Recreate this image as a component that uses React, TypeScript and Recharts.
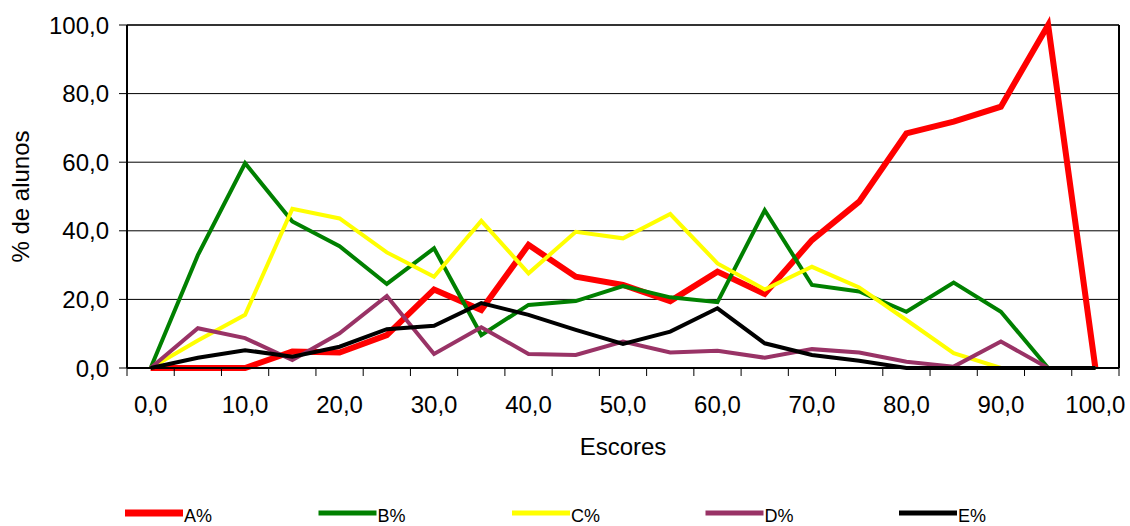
import React from 'react'
import { LineChart, Line, XAxis, YAxis, CartesianGrid, Legend, ReferenceLine } from 'recharts'

// Escores (x categories) and % de alunos per group
const scores = [0, 5, 10, 15, 20, 25, 30, 35, 40, 45, 50, 55, 60, 65, 70, 75, 80, 85, 90, 95, 100]
const seriesA = [0, 0, 0, 4.8, 4.5, 9.6, 22.9, 16.9, 35.9, 26.6, 24.2, 19.5, 28.1, 21.6, 37.3, 48.5, 68.4, 71.8, 76.2, 100, 0]
const seriesB = [0, 32.9, 59.7, 42.7, 35.5, 24.5, 34.9, 9.6, 18.4, 19.5, 23.9, 20.6, 19.2, 46, 24.2, 22.3, 16.4, 24.9, 16.4, 0, 0]
const seriesC = [0, 8, 15.5, 46.4, 43.6, 33.7, 26.6, 42.9, 27.6, 39.7, 37.8, 44.9, 30.5, 22.9, 29.5, 23.5, 14, 4.3, 0, 0, 0]
const seriesD = [0, 11.6, 8.7, 2.3, 10.1, 21, 4.1, 11.9, 4.1, 3.8, 7.7, 4.5, 5.0, 3.0, 5.5, 4.5, 1.8, 0.4, 7.7, 0, 0]
const seriesE = [0, 3.0, 5.2, 3.3, 6.2, 11.3, 12.3, 18.9, 15.5, 11.1, 7.0, 10.6, 17.4, 7.2, 3.8, 2.1, 0, 0, 0, 0, 0]

const labelTicks = [0, 10, 20, 30, 40, 50, 60, 70, 80, 90, 100]
// tick marks sit between categories, as in the original sheet
const edgeTicks = [-2.5, 2.5, 7.5, 12.5, 17.5, 22.5, 27.5, 32.5, 37.5, 42.5, 47.5, 52.5, 57.5, 62.5, 67.5, 72.5, 77.5, 82.5, 87.5, 92.5, 97.5, 102.5]
const yTicks = [0, 20, 40, 60, 80, 100]

const SERIES = [
  { key: 'A', name: 'A%', color: '#FF0000', width: 6, legendWidth: 7 },
  { key: 'B', name: 'B%', color: '#008000', width: 4, legendWidth: 5 },
  { key: 'C', name: 'C%', color: '#FFFF00', width: 4, legendWidth: 5 },
  { key: 'D', name: 'D%', color: '#993366', width: 4, legendWidth: 5 },
  { key: 'E', name: 'E%', color: '#000000', width: 4, legendWidth: 5 },
]

const data = scores.map((s, i) => ({
  score: s,
  A: seriesA[i],
  B: seriesB[i],
  C: seriesC[i],
  D: seriesD[i],
  E: seriesE[i],
}))

const FONT = 'Arial, "Liberation Sans", sans-serif'
const fmt = (v: number) => v.toFixed(1).replace('.', ',')

const XTick = ({ x, y, payload }: any) => {
  const v = payload.value
  if (labelTicks.includes(v)) {
    return (
      <text x={x} y={y + 45} textAnchor="middle" fontSize={24} fontFamily={FONT} fill="#000">
        {fmt(v)}
      </text>
    )
  }
  return <line x1={x} x2={x} y1={y} y2={y + 8} stroke="#000" strokeWidth={1} />
}

const renderLegend = () => (
  <svg width={1130} height={36} style={{ display: 'block' }}>
    {SERIES.map((s, i) => {
      const x = 125 + i * 193.5
      return (
        <g key={s.key}>
          <line x1={x} x2={x + 58} y1={18} y2={18} stroke={s.color} strokeWidth={s.legendWidth} />
          <text x={x + 59} y={27} fontSize={18} fontFamily={FONT} fill="#000">
            {s.name}
          </text>
        </g>
      )
    })}
  </svg>
)

export default function App() {
  return (
    <div style={{ position: 'absolute', left: 0, top: 0, background: '#fff' }}>
      <LineChart
        width={1130}
        height={526}
        data={data}
        margin={{ top: 25, right: 11, left: 0, bottom: 68 }}
      >
        <CartesianGrid horizontal vertical={false} stroke="#000" strokeWidth={1} />
        <XAxis
          dataKey="score"
          type="number"
          domain={[-2.5, 102.5]}
          allowDataOverflow
          ticks={[...edgeTicks, ...labelTicks]}
          interval={0}
          height={90}
          tickLine={false}
          tickSize={0}
          tickMargin={0}
          axisLine={{ stroke: '#000', strokeWidth: 2 }}
          tick={<XTick />}
          label={({ viewBox }: any) => (
            <text
              x={viewBox.x + viewBox.width / 2}
              y={viewBox.y + 87}
              textAnchor="middle"
              fontSize={24}
              fontFamily={FONT}
              fill="#000"
            >
              Escores
            </text>
          )}
        />
        <YAxis
          width={127}
          domain={[0, 100]}
          ticks={yTicks}
          tickFormatter={fmt}
          tickSize={8}
          tickMargin={10}
          interval={0}
          tickLine={{ stroke: '#000', strokeWidth: 1 }}
          axisLine={{ stroke: '#000', strokeWidth: 2 }}
          tick={{ fill: '#000', fontSize: 24, fontFamily: FONT }}
          label={({ viewBox }: any) => {
            const cx = 20
            const cy = viewBox.y + viewBox.height / 2
            return (
              <text
                x={cx}
                y={cy}
                transform={`rotate(-90, ${cx}, ${cy})`}
                textAnchor="middle"
                dominantBaseline="central"
                fontSize={24}
                fontFamily={FONT}
                fill="#000"
              >
                % de alunos
              </text>
            )
          }}
        />
        <ReferenceLine y={100} stroke="#333" strokeWidth={2} />
        <ReferenceLine x={102.5} stroke="#000" strokeWidth={2} />
        {SERIES.map((s) => (
          <Line
            key={s.key}
            type="linear"
            dataKey={s.key}
            name={s.name}
            stroke={s.color}
            strokeWidth={s.width}
            dot={false}
            activeDot={false}
            isAnimationActive={false}
          />
        ))}
        <Legend
          layout="horizontal"
          verticalAlign="middle"
          content={renderLegend}
          wrapperStyle={{ position: 'absolute', left: 0, top: 495, width: 1130, height: 36 }}
        />
      </LineChart>
    </div>
  )
}
